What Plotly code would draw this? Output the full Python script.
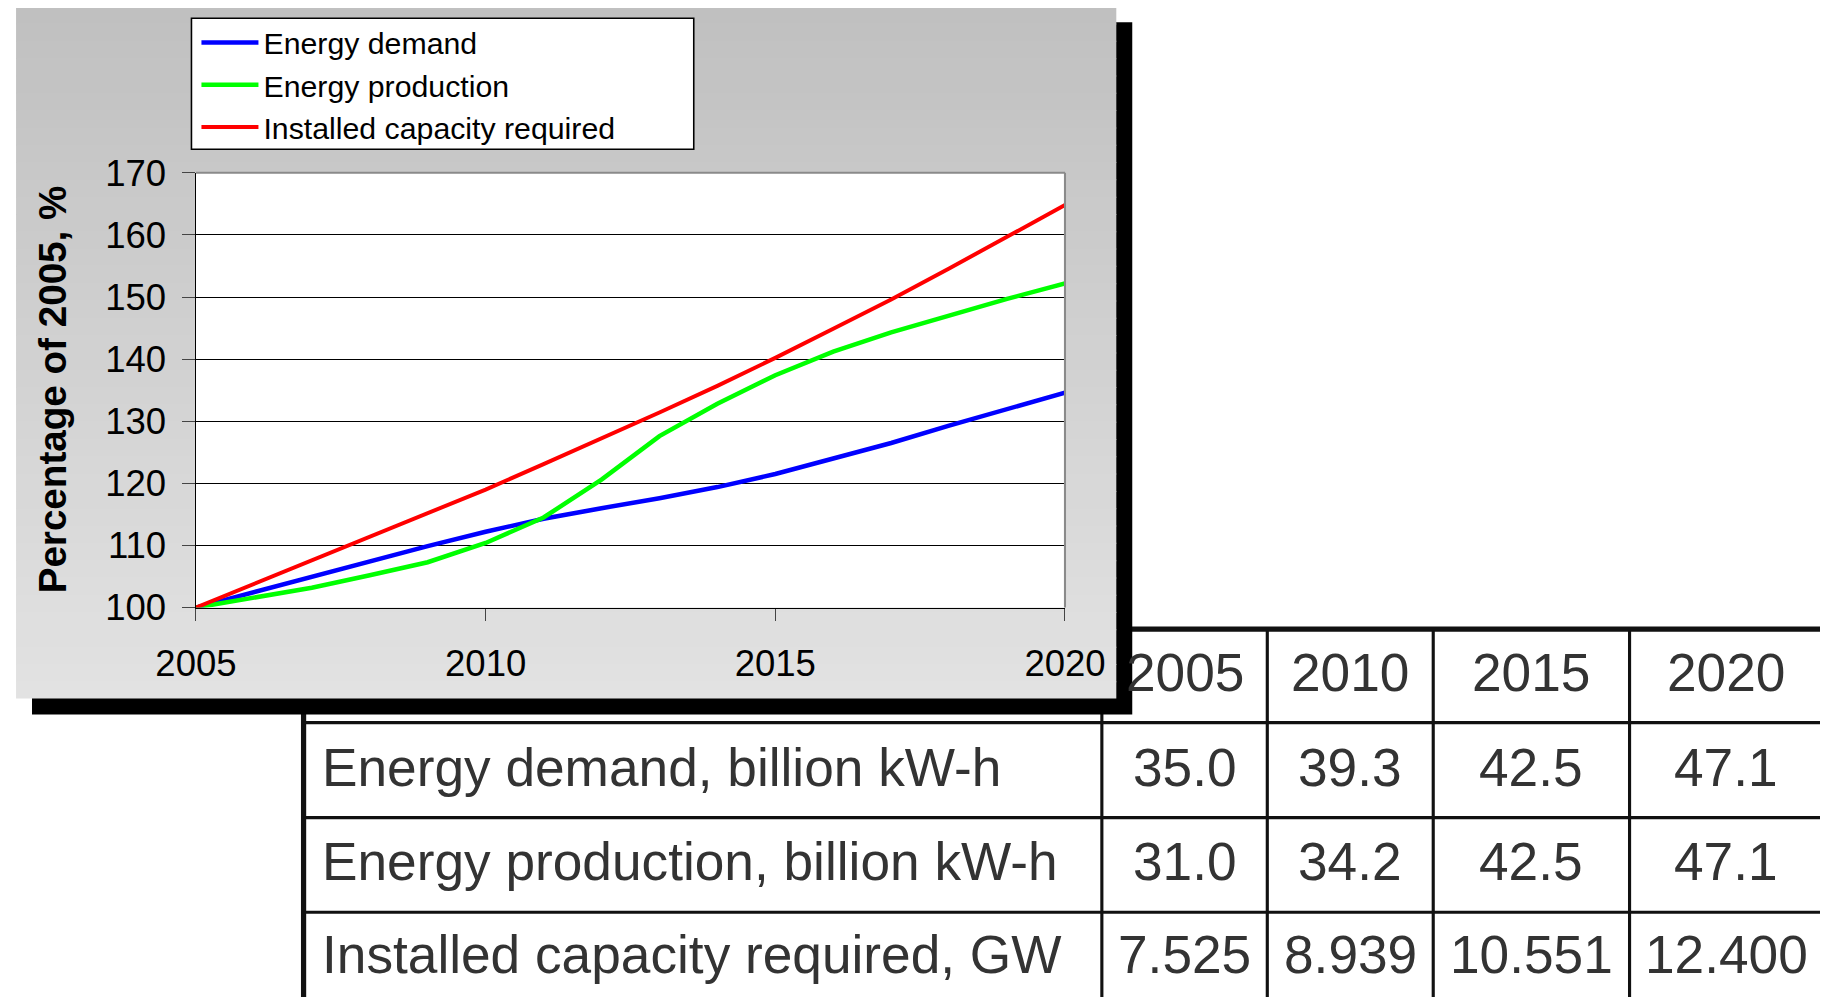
import plotly.graph_objects as go

# The page body keeps its default 8px margin, so the figure is 1812x989.
PAGE_W, PAGE_H = 1828, 1005
OFF = 8
W, H = PAGE_W - 2 * OFF, PAGE_H - 2 * OFF

# The photographed page comes out shrunk about its centre by this factor;
# all positions/sizes below are written in target window pixels and pre-scaled.
S = 0.958
CX, CY = PAGE_W / 2, PAGE_H / 2

# ---------------- data ----------------
years = list(range(2005, 2021))
demand_pct = [100, 102.5, 104.9, 107.4, 109.9, 112.2, 114.3, 116.0, 117.6, 119.4,
              121.5, 124.0, 126.5, 129.3, 132.0, 134.6]
production_pct = [100, 101.6, 103.2, 105.2, 107.3, 110.4, 114.5, 120.6, 127.6, 132.8,
                  137.4, 141.2, 144.3, 147.0, 149.7, 152.2]
capacity_pct = [100, 103.8, 107.6, 111.4, 115.2, 119.0, 123.1, 127.2, 131.4, 135.7,
                140.2, 144.9, 149.6, 154.6, 159.7, 164.8]

series_names = ["Energy demand", "Energy production", "Installed capacity required"]
series_colors = ["#0000ff", "#00ff00", "#ff0000"]
x_tick_years = [2005, 2010, 2015, 2020]
y_axis_title = "Percentage of 2005, %"

table_years = [2005, 2010, 2015, 2020]
table_row_labels = ["Energy demand, billion kW-h",
                    "Energy production, billion kW-h",
                    "Installed capacity required, GW"]
demand_bkwh = [35.0, 39.3, 42.5, 47.1]
production_bkwh = [31.0, 34.2, 42.5, 47.1]
capacity_gw = [7.525, 8.939, 10.551, 12.400]
table_formats = ["{:.1f}", "{:.1f}", "{:.3f}"]


# ---------------- helpers (target window pixel -> paper) ----------------
def px(x):
    return (CX + (x - CX) / S - OFF) / W


def py(y):
    return 1 - (CY + (y - CY) / S - OFF) / H


def sz(v):
    return v / S


FONT = "Liberation Sans, Arial, sans-serif"

shapes = []

# ---------------- table grid (drawn first, under the chart panel) ----------------
col_edges = [301.5, 1102.5, 1268.5, 1435, 1632, 1826]
row_edges = [629.5, 723, 818, 912.5, 1008]
TLINE = "#111111"
for i, c in enumerate(col_edges):
    w = 5 if i == 0 else 3
    shapes.append(dict(type="line", xref="paper", yref="paper", layer="below",
                       x0=px(c), x1=px(c), y0=py(row_edges[0]), y1=py(row_edges[-1]),
                       line=dict(color=TLINE, width=sz(w))))
for j, r in enumerate(row_edges):
    w = 5 if j == 0 else 3
    shapes.append(dict(type="line", xref="paper", yref="paper", layer="below",
                       x0=px(col_edges[0]), x1=px(col_edges[-1]), y0=py(r), y1=py(r),
                       line=dict(color=TLINE, width=sz(w))))

# ---------------- chart panel: shadow + gradient ----------------
P_L, P_R, P_T, P_B = 13, 1117, 7, 699
SH = 16
shapes.append(dict(type="rect", xref="paper", yref="paper", layer="below",
                   x0=px(P_L + SH), x1=px(P_R + SH), y0=py(P_T + SH), y1=py(P_B + SH),
                   fillcolor="#000000", line=dict(width=0)))
n_strips = 40
g_top, g_bot = 192, 226
for k in range(n_strips):
    y0 = P_T + (P_B - P_T) * k / n_strips
    y1 = P_T + (P_B - P_T) * (k + 1) / n_strips
    g = round(g_top + (g_bot - g_top) * k / (n_strips - 1))
    shapes.append(dict(type="rect", xref="paper", yref="paper", layer="below",
                       x0=px(P_L), x1=px(P_R), y0=py(y0), y1=py(min(y1 + 1, P_B)),
                       fillcolor=f"rgb({g},{g},{g})", line=dict(width=0)))

# legend box
shapes.append(dict(type="rect", xref="paper", yref="paper", layer="below",
                   x0=px(189), x1=px(693), y0=py(19), y1=py(150),
                   fillcolor="#ffffff", line=dict(color="#000000", width=sz(1.5))))

# plot area background
PA_L, PA_R, PA_T, PA_B = 193.5, 1065.5, 173.5, 608
shapes.append(dict(type="rect", xref="paper", yref="paper", layer="below",
                   x0=px(PA_L), x1=px(PA_R), y0=py(PA_B), y1=py(PA_T),
                   fillcolor="#ffffff", line=dict(width=0)))
# grey frame on top and right of plot area
shapes.append(dict(type="line", xref="paper", yref="paper", layer="above",
                   x0=px(PA_L), x1=px(PA_R), y0=py(PA_T), y1=py(PA_T),
                   line=dict(color="#8a8a8a", width=sz(2))))
shapes.append(dict(type="line", xref="paper", yref="paper", layer="above",
                   x0=px(PA_R), x1=px(PA_R), y0=py(PA_B), y1=py(PA_T),
                   line=dict(color="#8a8a8a", width=sz(2))))

# ---------------- traces ----------------
fig = go.Figure()
for name, vals, col, wd in zip(series_names,
                               [demand_pct, production_pct, capacity_pct],
                               series_colors, [4.3, 4.3, 3.8]):
    fig.add_trace(go.Scatter(x=years, y=vals, name=name, mode="lines",
                             line=dict(color=col, width=sz(wd)), hoverinfo="skip"))

# ---------------- annotations ----------------
annotations = []
annotations.append(dict(text=y_axis_title, xref="paper", yref="paper",
                        x=px(50), y=py(390), textangle=-90, showarrow=False,
                        xanchor="center", yanchor="middle",
                        font=dict(family=FONT, size=sz(37), color="#000000",
                                  weight="bold")))

TFONT = dict(family=FONT, size=sz(51), color="#333333")
col_centers = [(col_edges[i] + col_edges[i + 1]) / 2 for i in range(1, 5)]
row_mid_edges = [629.5, 723, 818, 912.5, 1003]
row_centers = [(row_mid_edges[j] + row_mid_edges[j + 1]) / 2 - 3 for j in range(4)]
for yr, cx in zip(table_years, col_centers):
    annotations.append(dict(text=str(yr), xref="paper", yref="paper", x=px(cx),
                            y=py(row_centers[0]), showarrow=False, xanchor="center",
                            yanchor="middle", font=TFONT))
for lab, vals, fmt, cy in zip(table_row_labels,
                              [demand_bkwh, production_bkwh, capacity_gw],
                              table_formats, row_centers[1:]):
    annotations.append(dict(text=lab, xref="paper", yref="paper", x=px(318),
                            y=py(cy), showarrow=False, xanchor="left",
                            yanchor="middle", font=TFONT))
    for v, cx in zip(vals, col_centers):
        annotations.append(dict(text=fmt.format(v), xref="paper", yref="paper",
                                x=px(cx), y=py(cy), showarrow=False,
                                xanchor="center", yanchor="middle", font=TFONT))

# ---------------- layout ----------------
fig.update_layout(
    width=W, height=H,
    margin=dict(l=0, r=0, t=0, b=0, pad=0),
    paper_bgcolor="#ffffff",
    plot_bgcolor="rgba(0,0,0,0)",
    shapes=shapes,
    annotations=annotations,
    showlegend=True,
    legend=dict(x=px(194), y=py(17), xanchor="left", yanchor="top",
                bgcolor="rgba(0,0,0,0)", borderwidth=0, itemwidth=round(sz(55)),
                font=dict(family=FONT, size=sz(29), color="#000000"),
                traceorder="normal"),
    xaxis=dict(domain=[px(PA_L), px(PA_R)], range=[2005, 2020],
               tickvals=x_tick_years, ticktext=[str(v) for v in x_tick_years],
               ticks="outside", ticklen=sz(12), tickwidth=1, tickcolor="#444444",
               showgrid=False, zeroline=False, showline=True,
               linecolor="#000000", linewidth=1,
               tickfont=dict(family=FONT, size=sz(35), color="#000000"),
               ticklabelstandoff=round(sz(11)), fixedrange=True),
    yaxis=dict(domain=[py(PA_B), py(PA_T)], range=[100, 170], dtick=10, tick0=100,
               ticks="outside", ticklen=sz(12), tickwidth=1, tickcolor="#444444",
               showgrid=True, gridcolor="#000000", gridwidth=1,
               zeroline=False, showline=True, linecolor="#000000", linewidth=1,
               tickfont=dict(family=FONT, size=sz(35), color="#000000"),
               ticklabelstandoff=round(sz(9)), fixedrange=True),
)

fig.write_html("out.html")
